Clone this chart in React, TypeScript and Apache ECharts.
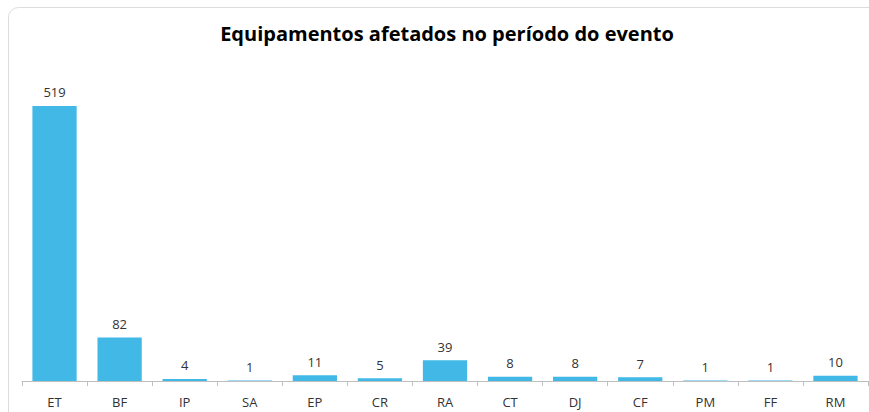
import React, { useEffect, useRef } from "react";
import * as echarts from "echarts";

const categories = ["ET", "BF", "IP", "SA", "EP", "CR", "RA", "CT", "DJ", "CF", "PM", "FF", "RM"];
const values = [519, 82, 4, 1, 11, 5, 39, 8, 8, 7, 1, 1, 10];
const title = "Equipamentos afetados no período do evento";

export default function App() {
  const ref = useRef<HTMLDivElement>(null);
  useEffect(() => {
    if (!ref.current) return;
    const chart = echarts.init(ref.current, null, { renderer: "svg" });
    chart.setOption({
      animation: false,
      backgroundColor: "#ffffff",
      graphic: [
        {
          type: "rect",
          shape: { x: 8.5, y: 7.5, width: 880, height: 430, r: 10 },
          style: { fill: "none", stroke: "#dcdcdc", lineWidth: 1 },
          silent: true,
          z: -1,
        },
        {
          type: "text",
          x: 447,
          y: 33,
          style: {
            text: title,
            fontFamily: "Open Sans",
            fontWeight: "bold",
            fontSize: 20,
            fill: "#000000",
            align: "center",
            verticalAlign: "middle",
          },
        },
      ],
      grid: { left: 22, right: 1, top: 63, bottom: 31, containLabel: false },
      xAxis: {
        type: "category",
        data: categories,
        axisLine: { lineStyle: { color: "#bfbfbf", width: 1 } },
        axisTick: { show: true, length: 5, lineStyle: { color: "#bfbfbf" } },
        axisLabel: { fontFamily: "Open Sans", fontSize: 13, color: "#333333", margin: 14 },
      },
      yAxis: {
        type: "value",
        min: 0,
        max: 600,
        show: false,
        splitLine: { show: false },
      },
      series: [
        {
          type: "bar",
          data: values,
          barCategoryGap: "32%",
          itemStyle: { color: "#41B8E6" },
          label: {
            show: true,
            position: "top",
            distance: 7,
            fontFamily: "Open Sans",
            fontSize: 13,
            color: "#333333",
          },
        },
      ],
    });
    return () => chart.dispose();
  }, []);
  return (
    <div
      ref={ref}
      style={{ position: "fixed", left: 0, top: 0, width: 869, height: 412 }}
    />
  );
}
